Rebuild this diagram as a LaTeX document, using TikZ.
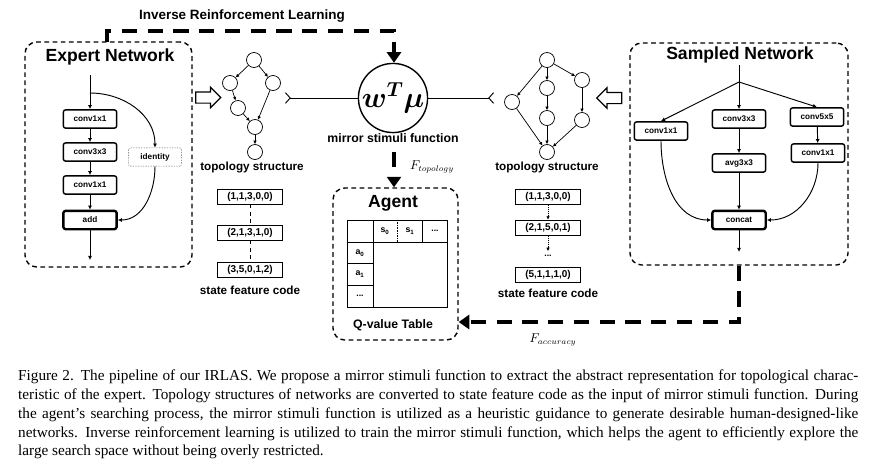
\documentclass[tikz,border=0pt]{standalone}
\usepackage{fontspec}
\usepackage{bm}
\setmainfont{Liberation Serif}
\setsansfont{Liberation Sans}
\usetikzlibrary{arrows.meta,calc,shapes.arrows}

\tikzset{
  layer/.style={draw, very thick, rounded corners=2pt, minimum width=1.6cm, minimum height=0.55cm, inner sep=1pt, font=\sffamily\bfseries\fontsize{7}{8}\selectfont},
  topo/.style={draw, semithick, circle, minimum size=0.45cm, inner sep=0pt},
  tedge/.style={semithick, -{Latex[length=3pt,width=3pt]}},
  flow/.style={thick, -{Latex[length=3.5pt,width=3.5pt]}},
  code/.style={draw, thick, minimum width=1.95cm, minimum height=0.45cm, inner sep=1pt, font=\sffamily\bfseries\fontsize{8.5}{9}\selectfont},
  lbl/.style={font=\sffamily\bfseries\fontsize{10}{11}\selectfont},
  title/.style={font=\sffamily\bfseries\fontsize{15}{16}\selectfont},
  cell/.style={font=\sffamily\bfseries\fontsize{7.5}{8}\selectfont},
  panel/.style={draw, line width=1.2pt, dash pattern=on 4pt off 3pt, rounded corners=10pt},
  bigdash/.style={line width=3pt, dash pattern=on 13pt off 9pt},
  hollow/.style={single arrow, draw, line width=1pt, minimum height=0.75cm, minimum width=0.58cm, single arrow head extend=0.14cm, inner sep=0.15cm},
  fork/.style={thick, {Straight Barb[reversed,length=4pt,width=9pt]}-},
}

\begin{document}
\begin{tikzpicture}[x=0.03cm, y=-0.03cm]
  \useasboundingbox (0,0) rectangle (870,466);

  % panels
  \node[panel, minimum width=5.01cm, minimum height=6.75cm] (expert) at (108.5,154.5) {};
  \node[panel, minimum width=6.54cm, minimum height=6.66cm] (sampled) at (739,154) {};
  \node[panel, minimum width=3.75cm, minimum height=4.56cm] (agent) at (395.5,264) {};

  % expert network
  \node[title] (expertT) at (110,57) {Expert Network};
  \coordinate (ein) at (90,75);
  \coordinate (esplit) at (90,93);
  \node[layer] (e1) at (90,119) {conv1x1};
  \node[layer] (e2) at (90,152) {conv3x3};
  \node[layer] (e3) at (90,185) {conv1x1};
  \node[layer, line width=2pt] (eadd) at (90,220) {add};
  \node[layer, thin, densely dotted] (eid) at (155,157) {identity};
  \coordinate (eout) at (90,260);
  \draw[flow] (ein) -- (e1);
  \draw[flow] (e1) -- (e2);
  \draw[flow] (e2) -- (e3);
  \draw[flow] (e3) -- (eadd);
  \draw[flow] (eadd) -- (eout);
  \draw[flow] (esplit) to[out=0, in=90] (eid.north);
  \draw[flow] (eid.south) to[out=-90, in=0] (eadd.east);

  % sampled network
  \node[title] (sampledT) at (740,55) {Sampled Network};
  \coordinate (sin) at (739,65);
  \coordinate (ssplit) at (739,82);
  \node[layer] (s1) at (661,131) {conv1x1};
  \node[layer] (s2) at (739,119) {conv3x3};
  \node[layer] (s3) at (739,163) {avg3x3};
  \node[layer] (s4) at (817,117) {conv5x5};
  \node[layer] (s5) at (818,153) {conv1x1};
  \node[layer, line width=2pt] (sconcat) at (739,220) {concat};
  \coordinate (sout) at (739,252);
  \draw[thick] (sin) -- (ssplit);
  \draw[flow] (ssplit) -- (s1.north);
  \draw[flow] (ssplit) -- (s2);
  \draw[flow] (ssplit) -- (s4.north);
  \draw[flow] (s2) -- (s3);
  \draw[flow] (s3) -- (sconcat);
  \draw[flow] (s4) -- (s5);
  \draw[flow] (s1.south) to[out=-90, in=180] (sconcat.west);
  \draw[flow] (s5.south) to[out=-90, in=0] (sconcat.east);
  \draw[flow] (sconcat) -- (sout);

  % hollow arrows
  \node[hollow] (harrowL) at (205.5,97.5) {};
  \node[hollow, shape border rotate=180] (harrowR) at (612,98) {};

  % left topology
  \node[topo] (l1) at (254,60) {};
  \node[topo] (l2) at (230,83) {};
  \node[topo] (l3) at (273,83) {};
  \node[topo] (l4) at (238,108) {};
  \node[topo] (l5) at (255,127) {};
  \node[topo] (l6) at (255,152) {};
  \draw[tedge] (l1) -- (l2);
  \draw[tedge] (l1) -- (l3);
  \draw[tedge] (l2) -- (l4);
  \draw[tedge] (l4) -- (l5);
  \draw[tedge] (l3) -- (l5);
  \draw[tedge] (l5) -- (l6);
  \node[lbl] (ltopo) at (252,167) {topology structure};

  % right topology
  \node[topo] (r1) at (547,60) {};
  \node[topo] (r2) at (512,102) {};
  \node[topo] (r3) at (547,88) {};
  \node[topo] (r4) at (547,118) {};
  \node[topo] (r5) at (582,80) {};
  \node[topo] (r6) at (582,120) {};
  \node[topo] (r7) at (547,152) {};
  \draw[tedge] (r1) -- (r2);
  \draw[tedge] (r1) -- (r3);
  \draw[tedge] (r3) -- (r4);
  \draw[tedge] (r4) -- (r7);
  \draw[tedge] (r1) -- (r5);
  \draw[tedge] (r5) -- (r6);
  \draw[tedge] (r6) -- (r7);
  \draw[tedge] (r2) -- (r7);
  \node[lbl] (rtopo) at (547,167) {topology structure};

  % mirror stimuli function
  \node[draw, circle, line width=1.2pt, minimum size=1.8cm, inner sep=0pt] (mirror) at (393,98) {\fontsize{23}{25}\selectfont$\bm{w^T\mu}$};
  \node[lbl, font=\sffamily\bfseries\fontsize{10.5}{11}\selectfont] (mirrorlbl) at (393,138) {mirror stimuli function};
  \coordinate (lfork) at (285,98);
  \coordinate (rfork) at (494,98);
  \draw[fork] (lfork) -- (mirror);
  \draw[fork] (rfork) -- (mirror);

  % inverse reinforcement learning
  \node[font=\sffamily\bfseries\fontsize{11.5}{12}\selectfont] (irl) at (242,16) {Inverse Reinforcement Learning};
  \coordinate (irlstart) at (107,42);
  \coordinate (irlcorner) at (394,31);
  \draw[bigdash, -{Triangle[width=12pt,length=9pt]}] (irlstart) |- (irlcorner) -- (mirror.north -| irlcorner);

  % topology -> agent
  \coordinate (topostart) at (394,152);
  \draw[bigdash, -{Triangle[width=12pt,length=9pt]}] (topostart) -- (agent.north -| topostart);
  \node[font=\fontsize{10.5}{11}\selectfont] (ftopo) at (432,167) {$F_{topology}$};

  % sampled -> agent
  \coordinate (acccorner) at (739,322);
  \draw[bigdash, -{Triangle[width=12pt,length=9pt]}] (sampled.south) -- (acccorner) -- (agent.east |- acccorner);
  \node[font=\fontsize{10.5}{11}\selectfont] (facc) at (553,340) {$F_{accuracy}$};

  % agent
  \node[title] (agentT) at (393,203) {Agent};
  \draw[thick] (347,220) rectangle (447,307);
  \draw (347,242) -- (447,242);
  \draw (373,220) -- (373,307);
  \draw (347,263) -- (373,263);
  \draw (347,285) -- (373,285);
  \draw[densely dotted] (397,220) -- (397,242);
  \draw (422,220) -- (422,242);
  \node[cell] (cs0) at (385,231) {s\textsubscript{0}};
  \node[cell] (cs1) at (410,231) {s\textsubscript{1}};
  \node[cell] (csd) at (435,231) {...};
  \node[cell] (ca0) at (360,253) {a\textsubscript{0}};
  \node[cell] (ca1) at (360,274) {a\textsubscript{1}};
  \node[cell] (cad) at (360,296) {...};
  \node[lbl, font=\sffamily\bfseries\fontsize{10.5}{11}\selectfont] (qtable) at (393,325) {Q-value Table};

  % state feature codes
  \node[code] (lc1) at (250,197) {(1,1,3,0,0)};
  \node[code] (lc2) at (250,233) {(2,1,3,1,0)};
  \node[code] (lc3) at (250,270) {(3,5,0,1,2)};
  \draw[dashed] (lc1) -- (lc2);
  \draw[dashed] (lc2) -- (lc3);
  \node[lbl] (lstate) at (250,290) {state feature code};

  \node[code, line width=1.2pt] (rc1) at (548,197) {(1,1,3,0,0)};
  \node[code, line width=1.2pt] (rc2) at (548,228) {(2,1,5,0,1)};
  \node[cell] (rdots) at (548,256) {...};
  \node[code, line width=1.2pt] (rc3) at (548,275) {(5,1,1,1,0)};
  \draw[densely dotted, tedge] (rc1) -- (rc2);
  \draw[densely dotted, tedge] (rc2) -- (rdots);
  \node[lbl] (rstate) at (548,293) {state feature code};

  % caption
  \node[anchor=north west, text width=25.2cm, align=justify, inner sep=0pt, font=\fontsize{13}{16}\selectfont] (caption) at (18,370) {Figure 2. The pipeline of our IRLAS. We propose a mirror stimuli function to extract the abstract representation for topological charac-\linebreak teristic of the expert. Topology structures of networks are converted to state feature code as the input of mirror stimuli function. During\linebreak the agent’s searching process, the mirror stimuli function is utilized as a heuristic guidance to generate desirable human-designed-like\linebreak networks. Inverse reinforcement learning is utilized to train the mirror stimuli function, which helps the agent to efficiently explore the\linebreak large search space without being overly restricted.};
\end{tikzpicture}
\end{document}
